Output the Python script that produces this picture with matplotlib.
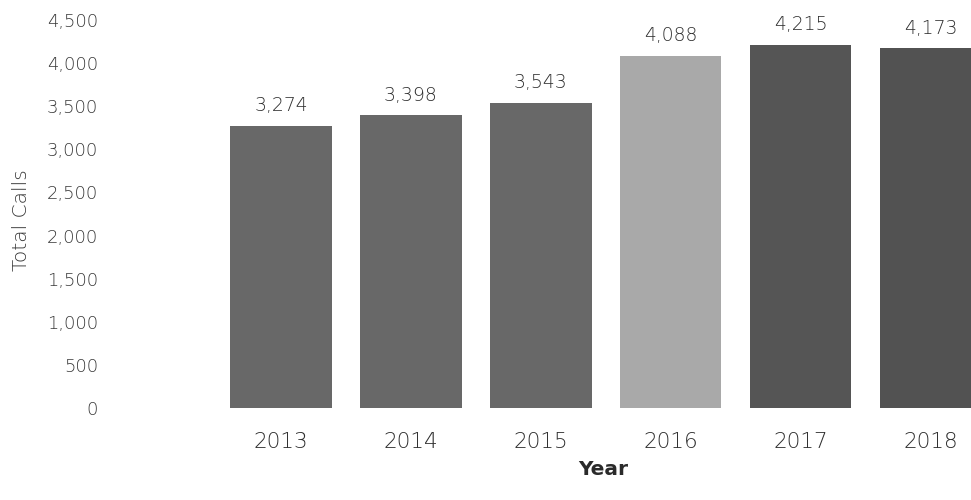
import matplotlib.pyplot as plt

years = ['2013', '2014', '2015', '2016', '2017', '2018']
calls = [3274, 3398, 3543, 4088, 4215, 4173]
bar_colors = ['#686868', '#686868', '#686868', '#a9a9a9', '#555555', '#525252']
y_ticks = [0, 500, 1000, 1500, 2000, 2500, 3000, 3500, 4000, 4500]

plt.rcParams['font.family'] = ['DejaVu Sans']

fig = plt.figure(figsize=(9.71, 5.0), dpi=100)
ax = fig.add_axes([0.118, 0.184, 0.882, 0.776])

x = range(len(years))
ax.bar(x, calls, width=0.78, color=bar_colors)
for xi, v in zip(x, calls):
    ax.text(xi, v + 120, f'{v:,}', ha='center', va='bottom', fontsize=13.5,
            color='#2e2e2e', fontweight='light')

ax.set_xlim(-1.28, 5.31)
ax.set_ylim(0, 4500)
ax.set_yticks(y_ticks)
ax.set_yticklabels([f'{t:,}' for t in y_ticks], fontsize=13, color='#383838',
                   fontweight='light')
ax.set_xticks(list(x))
ax.set_xticklabels(years, fontsize=15.5, color='#2e2e2e', fontweight='light')
ax.tick_params(length=0)
ax.tick_params(axis='x', pad=17)
ax.tick_params(axis='y', pad=12)
for s in ax.spines.values():
    s.set_visible(False)

ax.set_xlabel('Year', fontsize=14.5, fontweight='bold', color='#2a2a2a', labelpad=2)
ax.xaxis.set_label_coords(0.571, -0.135)
fig.text(0.022, 0.56, 'Total Calls', rotation=90, ha='center', va='center',
         fontsize=14.5, color='#383838', fontweight='light')

fig.savefig('out.png', dpi=100, facecolor='w')
